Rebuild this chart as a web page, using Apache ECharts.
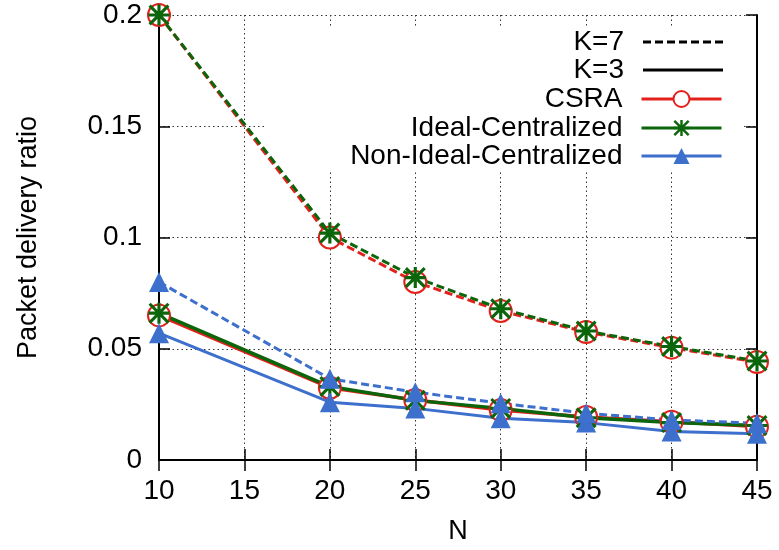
<!DOCTYPE html>
<html>
<head>
<meta charset="utf-8">
<script src="https://cdn.jsdelivr.net/npm/echarts@6/dist/echarts.min.js"></script>
<style>
  html, body { margin: 0; padding: 0; background: #fff; }
  #main { width: 779px; height: 550px; }
</style>
</head>
<body>
<div id="main"></div>
<script>
// N values (x axis)
var nValues = [10, 20, 25, 30, 35, 40, 45];

// K=7 (dashed)
var csraK7 = [0.2, 0.1, 0.080, 0.067, 0.0575, 0.0505, 0.044];
var idealK7 = [0.2, 0.102, 0.082, 0.068, 0.058, 0.051, 0.0445];
var nonIdealK7 = [0.080, 0.0365, 0.0305, 0.0255, 0.021, 0.018, 0.0165];

// K=3 (solid)
var csraK3 = [0.065, 0.0325, 0.027, 0.0225, 0.0193, 0.0172, 0.015];
var idealK3 = [0.066, 0.033, 0.0268, 0.0232, 0.019, 0.0168, 0.0155];
var nonIdealK3 = [0.057, 0.026, 0.0232, 0.0188, 0.0168, 0.0128, 0.0118];

var RED = '#e3211c', GREEN = '#0b650b', BLUE = '#3d6fcc';
var FONT = 'Liberation Sans';

// gnuplot style "*" marker (plus + cross)
var STAR = 'path://M0,8.5L20,8.5L20,11.5L0,11.5Z M8.5,0L11.5,0L11.5,20L8.5,20Z ' +
  'M2.1,0L20,17.9L17.9,20L0,2.1Z M17.9,0L20,2.1L2.1,20L0,17.9Z';

// legend line samples (tiny dots at the top and bottom keep the 80x20 box)
var BOX = 'M0,0L0.01,0L0.01,0.01Z M0,20L0.01,20L0.01,19.99Z ';
var SOLID_ICON = 'path://' + BOX + 'M0,8.6L80,8.6L80,11.4L0,11.4Z';
var DASH_ICON = 'path://' + BOX + [0, 12, 24, 36, 48, 60, 72].map(function (s) {
  return 'M' + s + ',8.6L' + (s + 8) + ',8.6L' + (s + 8) + ',11.4L' + s + ',11.4Z';
}).join(' ');

function pairs(ys) {
  return nValues.map(function (n, i) { return [n, ys[i]]; });
}

function lineSeries(name, ys, color, dashed, symbol, size, width) {
  return {
    name: name,
    type: 'line',
    data: pairs(ys),
    symbol: symbol,
    symbolSize: size,
    showAllSymbol: true,
    lineStyle: { color: color, width: width, type: dashed ? [8, 4] : 'solid' },
    itemStyle: { color: color, borderColor: color, borderWidth: symbol === 'emptyCircle' ? 3 : 0 },
    z: 3
  };
}

var myChart = echarts.init(document.getElementById('main'));

var legendRows = ['K=7', 'K=3', 'CSRA', 'Ideal-Centralized', 'Non-Ideal-Centralized'];
var legendTops = [28, 56, 85, 114, 142];
var legendIcons = [DASH_ICON, SOLID_ICON, null, null, null];
var legends = legendRows.map(function (nm, i) {
  var item = { name: nm };
  if (legendIcons[i]) {
    item.icon = legendIcons[i];
    item.itemStyle = { color: '#000', borderWidth: 0 };
  }
  return {
    data: [item],
    right: 56,
    top: legendTops[i],
    align: 'right',
    itemWidth: 80,
    itemHeight: 20,
    padding: 0,
    selectedMode: false,
    lineStyle: { width: 3 },
    textStyle: { fontFamily: FONT, fontSize: 28, color: '#000', padding: [0, 14, 0, 0] }
  };
});

var axisCommon = {
  axisLine: { show: true, lineStyle: { color: '#000', width: 2 } },
  axisTick: { show: true, inside: true, length: 11, lineStyle: { color: '#000', width: 1.5 } }
};

myChart.setOption({
  animation: false,
  backgroundColor: '#fff',
  grid: { left: 159, right: 22, top: 15, bottom: 86 },
  legend: legends,
  graphic: [{
    type: 'rect',
    z: 1,
    shape: { x: 265, y: 27, width: 478, height: 143 },
    style: { fill: '#fff' }
  }],
  xAxis: [
    Object.assign({
      type: 'value', min: 10, max: 45, interval: 5,
      name: 'N', nameLocation: 'middle', nameGap: 58,
      nameTextStyle: { fontFamily: FONT, fontSize: 27, color: '#000' },
      axisLabel: { fontFamily: FONT, fontSize: 28, color: '#000', margin: 17 },
      splitLine: { show: true, lineStyle: { color: '#333', width: 1, type: [1.5, 3] } }
    }, axisCommon),
    Object.assign({
      type: 'value', min: 10, max: 45, interval: 5, position: 'top',
      axisLabel: { show: false }, splitLine: { show: false }
    }, axisCommon)
  ],
  yAxis: [
    Object.assign({
      type: 'value', min: 0, max: 0.2, interval: 0.05,
      name: 'Packet delivery ratio', nameLocation: 'middle', nameGap: 117,
      nameTextStyle: { fontFamily: FONT, fontSize: 27, color: '#000' },
      axisLabel: { fontFamily: FONT, fontSize: 28, color: '#000', margin: 17 },
      splitLine: { show: true, lineStyle: { color: '#333', width: 1, type: [1.5, 3] } }
    }, axisCommon),
    Object.assign({
      type: 'value', min: 0, max: 0.2, interval: 0.05, position: 'right',
      axisLabel: { show: false }, splitLine: { show: false }
    }, axisCommon)
  ],
  series: [
    { name: 'K=7', type: 'line', data: [], symbol: 'none',
      lineStyle: { color: '#000', width: 2.5, type: [8, 4] }, itemStyle: { color: '#000' } },
    { name: 'K=3', type: 'line', data: [], symbol: 'none',
      lineStyle: { color: '#000', width: 2.5 }, itemStyle: { color: '#000' } },
    lineSeries('CSRA', csraK3, RED, false, 'emptyCircle', 22, 3.5),
    lineSeries('Ideal-Centralized', idealK3, GREEN, false, STAR, 21, 3.5),
    lineSeries('Non-Ideal-Centralized', nonIdealK3, BLUE, false, 'triangle', 20, 3),
    lineSeries('CSRA', csraK7, RED, true, 'emptyCircle', 22, 3),
    lineSeries('Ideal-Centralized', idealK7, GREEN, true, STAR, 21, 3),
    lineSeries('Non-Ideal-Centralized', nonIdealK7, BLUE, true, 'triangle', 20, 3)
  ]
});
</script>
</body>
</html>
